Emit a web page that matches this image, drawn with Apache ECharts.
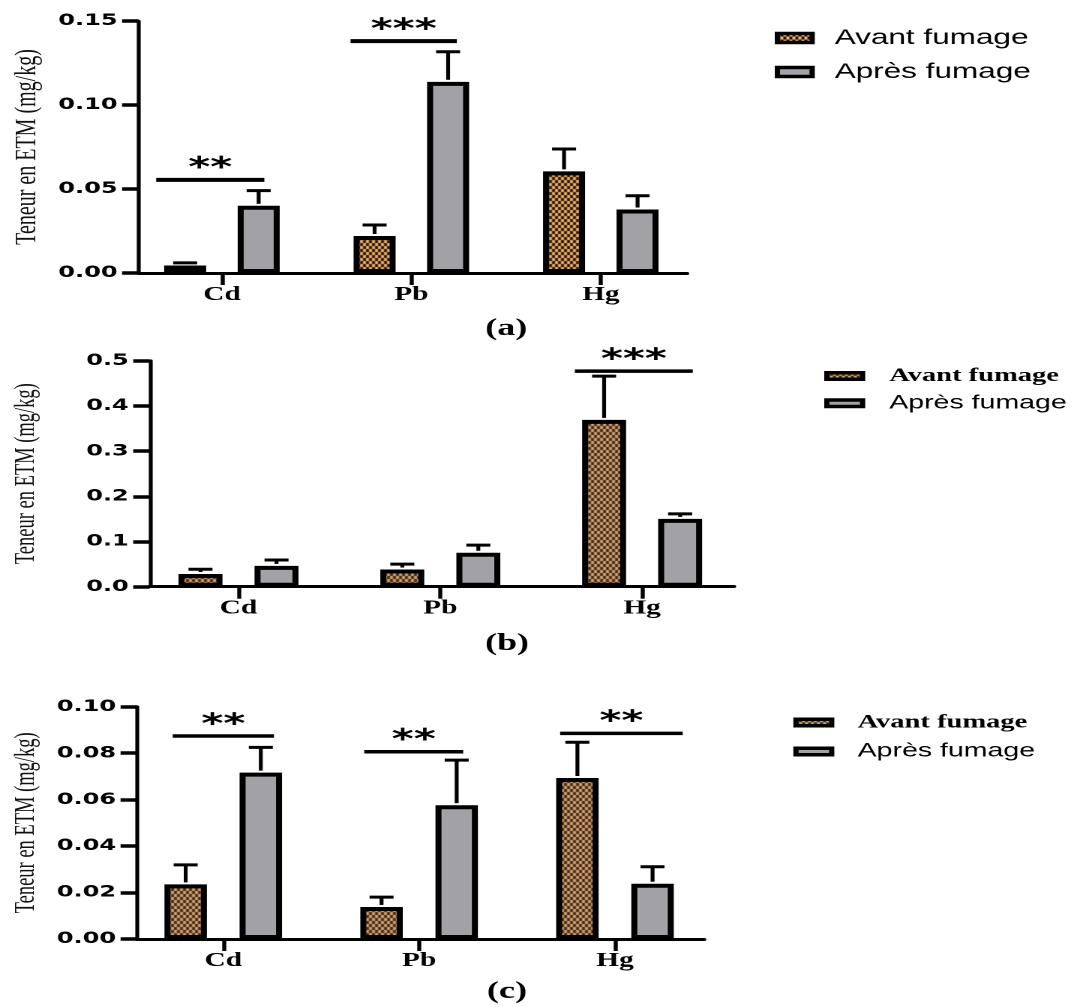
<!DOCTYPE html>
<html><head><meta charset="utf-8">
<script src="https://cdn.jsdelivr.net/npm/echarts@6/dist/echarts.min.js"></script>
<style>
html,body{margin:0;padding:0;background:#fff;overflow:hidden;width:1074px;height:1007px}
#wrap{width:716px;height:1007px;transform:scaleX(1.5);transform-origin:0 0}
#chart{width:716px;height:1007px}
</style></head><body><div id="wrap"><div id="chart"></div></div>
<script>
// ---------- DATA ----------
const categories = ['Cd', 'Pb', 'Hg'];
const seriesNames = ['Avant fumage', 'Après fumage'];
const axisTitle = 'Teneur en ETM (mg/kg)';
const captions = ['(a)', '(b)', '(c)'];

// panel (a)
const avantA = [0.0045, 0.022, 0.0605];
const avantErrA = [0.0015, 0.0066, 0.0133];
const apresA = [0.040, 0.1138, 0.0378];
const apresErrA = [0.009, 0.0179, 0.0082];
const yTicksA = ['0.00', '0.05', '0.10', '0.15'];
const sigA = [[-0.347, 0.224, 0.0554], [0.679, 1.240, 0.138]];
const sigLabelsA = ['**', '***'];

// panel (b)
const avantB = [0.028, 0.038, 0.369];
const avantErrB = [0.0105, 0.012, 0.097];
const apresB = [0.046, 0.075, 0.150];
const apresErrB = [0.013, 0.017, 0.011];
const yTicksB = ['0.0', '0.1', '0.2', '0.3', '0.4', '0.5'];
const sigB = [[1.667, 2.251, 0.477]];
const sigLabelsB = ['***'];

// panel (c)
const avantC = [0.0235, 0.0138, 0.0693];
const avantErrC = [0.0084, 0.0042, 0.0154];
const apresC = [0.0716, 0.0576, 0.0238];
const apresErrC = [0.0109, 0.0194, 0.0073];
const yTicksC = ['0.00', '0.02', '0.04', '0.06', '0.08', '0.10'];
const sigC = [[-0.258, 0.259, 0.0874], [0.720, 1.225, 0.0806], [1.720, 2.346, 0.0885]];
const sigLabelsC = ['**', '**', '**'];

// ---------- STYLE ----------
function makePattern(light, dark) {
  const c = document.createElement('canvas');
  c.width = 4; c.height = 6;
  const g = c.getContext('2d');
  g.fillStyle = dark; g.fillRect(0, 0, 4, 6);
  g.fillStyle = light; g.fillRect(0, 0, 2, 3); g.fillRect(2, 3, 2, 3);
  return { image: c, repeat: 'repeat' };
}
const GRAY = '#A2A1A6';

const panels = [
  { avant: avantA, avantErr: avantErrA, apres: apresA, apresErr: apresErrA, ticks: yTicksA,
    sig: sigA, sigLabels: sigLabelsA, yMax: 0.15, yInt: 0.05,
    grid: { left: 80, top: 21, width: 378, height: 252 },
    barW: 28, gap: 75, nameGap: 56, nameSize: 20, sigW: 4,
    pattern: makePattern('#F7B46A', '#1C120A'),
    legend: { left: 516.5, top: 27.5, itemWidth: 23.2, itemHeight: 9, itemGap: 13, pad: 10,
      t1: { fontFamily: 'Liberation Sans', fontSize: 21 }, t2: { fontFamily: 'Liberation Sans', fontSize: 21 } },
    cap: [337.5, 329] },
  { avant: avantB, avantErr: avantErrB, apres: apresB, apresErr: apresErrB, ticks: yTicksB,
    sig: sigB, sigLabels: sigLabelsB, yMax: 0.5, yInt: 0.1,
    grid: { left: 97.3, top: 360.7, width: 392, height: 226 },
    barW: 29.3, gap: 73, nameGap: 72.8, nameSize: 18.5, sigW: 3.5,
    pattern: makePattern('#D9A26E', '#3B2A1D'),
    legend: { left: 549.5, top: 366.5, itemWidth: 23.8, itemHeight: 6.5, itemGap: 8.3, pad: 12.8,
      t1: { fontFamily: 'Liberation Serif', fontWeight: 'bold', fontSize: 19 }, t2: { fontFamily: 'Liberation Sans', fontSize: 19 } },
    cap: [338, 644] },
  { avant: avantC, avantErr: avantErrC, apres: apresC, apresErr: apresErrC, ticks: yTicksC,
    sig: sigC, sigLabels: sigLabelsC, yMax: 0.1, yInt: 0.02,
    grid: { left: 84.5, top: 706.7, width: 384.9, height: 232.3 },
    barW: 28.3, gap: 77, nameGap: 56.5, nameSize: 18.5, sigW: 3.5,
    pattern: makePattern('#D9A26E', '#3B2A1D'),
    legend: { left: 528.9, top: 713, itemWidth: 23.8, itemHeight: 6.5, itemGap: 10, pad: 12.3,
      t1: { fontFamily: 'Liberation Serif', fontWeight: 'bold', fontSize: 19 }, t2: { fontFamily: 'Liberation Sans', fontSize: 19 } },
    cap: [338, 992] }
];

const option = { animation: false, backgroundColor: '#fff', grid: [], xAxis: [], yAxis: [], series: [], legend: [], graphic: [] };

panels.forEach((p, i) => {
  option.grid.push(Object.assign({ containLabel: false }, p.grid));
  option.xAxis.push({
    gridIndex: i, type: 'value', min: -0.44, max: 2.455,
    axisLine: { show: true, onZero: false, lineStyle: { color: '#000', width: 3 } },
    axisTick: { show: true, customValues: [0, 1, 2], length: 12, lineStyle: { color: '#000', width: 2.7 } },
    axisLabel: { customValues: [0, 1, 2], formatter: v => categories[Math.round(v)], margin: 12,
      fontFamily: 'Liberation Serif', fontWeight: 'bold', fontSize: 19.5, color: '#000' },
    splitLine: { show: false }
  });
  option.yAxis.push({
    gridIndex: i, type: 'value', min: 0, max: p.yMax, interval: p.yInt,
    axisLine: { show: true, onZero: false, lineStyle: { color: '#000', width: 2.6 } },
    axisTick: { show: true, length: 11, lineStyle: { color: '#000', width: 3.5 } },
    axisLabel: { formatter: v => { const t = p.ticks.find(s => Math.abs(+s - v) < 1e-9); return t === undefined ? '' : t; },
      margin: 14, fontFamily: 'DejaVu Sans', fontWeight: 'bold', fontSize: 16, color: '#000' },
    splitLine: { show: false },
    name: axisTitle, nameLocation: 'middle', nameGap: p.nameGap,
    nameTextStyle: { fontFamily: 'Liberation Serif', fontSize: p.nameSize, color: '#111' }
  });
  option.series.push({
    type: 'bar', name: seriesNames[0], xAxisIndex: i, yAxisIndex: i,
    data: p.avant.map((v, k) => [k, v]), barWidth: p.barW, barGap: p.gap + '%',
    itemStyle: { color: p.pattern, borderColor: '#000', borderWidth: 4 }, z: 2
  });
  option.series.push({
    type: 'bar', name: seriesNames[1], xAxisIndex: i, yAxisIndex: i,
    data: p.apres.map((v, k) => [k, v]), barWidth: p.barW, barGap: p.gap + '%',
    itemStyle: { color: GRAY, borderColor: '#000', borderWidth: 4 }, z: 2
  });
  const off = p.barW * (1 + p.gap / 100) / 2;
  const errData = [];
  p.avant.forEach((v, k) => errData.push([k, v, p.avantErr[k], 0]));
  p.apres.forEach((v, k) => errData.push([k, v, p.apresErr[k], 1]));
  option.series.push({
    type: 'custom', xAxisIndex: i, yAxisIndex: i, data: errData, z: 3, silent: true,
    encode: { x: 0, y: 1 },
    renderItem: (params, api) => {
      const cat = api.value(0), m = api.value(1), sd = api.value(2), s = api.value(3);
      const b = api.coord([cat, m]), t = api.coord([cat, m + sd]);
      const x = b[0] + (s === 0 ? -off : off);
      return { type: 'group', children: [
        { type: 'line', shape: { x1: x, y1: b[1] - 2, x2: x, y2: t[1] }, style: { stroke: '#000', lineWidth: 2.6 } },
        { type: 'line', shape: { x1: x - 8, y1: t[1], x2: x + 8, y2: t[1] }, style: { stroke: '#000', lineWidth: 3 } }
      ] };
    }
  });
  option.series.push({
    type: 'custom', xAxisIndex: i, yAxisIndex: i, data: p.sig, z: 3, silent: true,
    encode: { x: [0, 1], y: 2 },
    renderItem: (params, api) => {
      const a = api.coord([api.value(0), api.value(2)]), c = api.coord([api.value(1), api.value(2)]);
      return { type: 'group', children: [
        { type: 'line', shape: { x1: a[0], y1: a[1], x2: c[0], y2: c[1] }, style: { stroke: '#000', lineWidth: p.sigW } },
        { type: 'text', x: (a[0] + c[0]) / 2, y: a[1] - 11,
          style: { text: p.sigLabels[params.dataIndex], font: 'bold 28px "DejaVu Sans"', fill: '#000', align: 'center', verticalAlign: 'middle' } }
      ] };
    }
  });
  const L = p.legend;
  option.legend.push({
    orient: 'vertical', left: L.left, top: L.top, itemWidth: L.itemWidth, itemHeight: L.itemHeight, itemGap: L.itemGap,
    icon: 'rect', selectedMode: false, padding: 0,
    textStyle: { color: '#000', padding: [0, 0, 0, L.pad] },
    data: [
      { name: seriesNames[0], itemStyle: { color: p.pattern, borderColor: '#000', borderWidth: 3.5 }, textStyle: L.t1 },
      { name: seriesNames[1], itemStyle: { color: GRAY, borderColor: '#000', borderWidth: 3.5 }, textStyle: L.t2 }
    ]
  });
  option.graphic.push({ type: 'text', x: p.cap[0], y: p.cap[1],
    style: { text: captions[i], font: 'bold 24px "Liberation Serif"', fill: '#000', align: 'center', verticalAlign: 'middle' } });
});

const chart = echarts.init(document.getElementById('chart'), null, { renderer: 'canvas', devicePixelRatio: 2, width: 716, height: 1007 });
chart.setOption(option);
</script></body></html>
